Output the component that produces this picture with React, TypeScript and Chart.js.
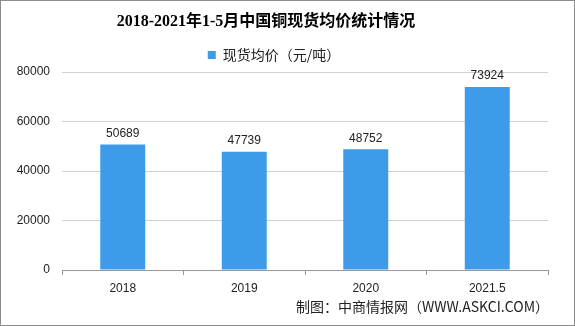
import React, { useEffect, useRef } from "react";
import { Chart, registerables } from "chart.js";

Chart.register(...registerables);

const categories = ["2018", "2019", "2020", "2021.5"];
const prices = [50689, 47739, 48752, 73924];
const yTicks = [0, 20000, 40000, 60000, 80000];
const seriesName = "现货均价（元/吨）";
const titleText = "2018-2021年1-5月中国铜现货均价统计情况";
const footerText = "制图：中商情报网（WWW.ASKCI.COM）";

const BAR_COLOR = "#3d9be9";

export default function App() {
  const ref = useRef<HTMLCanvasElement | null>(null);
  useEffect(() => {
    document.body.style.margin = "0";
    const canvas = ref.current!;
    const deco = {
      id: "deco",
      beforeDraw(chart: any) {
        const ctx = chart.ctx;
        ctx.save();
        ctx.fillStyle = "#ffffff";
        ctx.fillRect(0, 0, chart.width, chart.height);
        ctx.restore();
      },
      afterDraw(chart: any) {
        const ctx = chart.ctx;
        ctx.save();
        ctx.strokeStyle = "#8c8c8c";
        ctx.lineWidth = 1;
        ctx.strokeRect(0.5, 0.5, chart.width - 1, chart.height - 1);
        ctx.fillStyle = "#000";
        ctx.font = 'bold 16px "Liberation Serif", "Noto Sans CJK SC"';
        ctx.textAlign = "center";
        ctx.textBaseline = "middle";
        ctx.fillText(titleText, 266, 22);
        ctx.font = '14px "Noto Sans CJK SC", "Liberation Sans"';
        ctx.textAlign = "right";
        ctx.fillStyle = "#222";
        ctx.fillText(footerText, 549, 307);
        // data labels
        const meta = chart.getDatasetMeta(0);
        ctx.font = '12px "Liberation Sans", "Noto Sans CJK SC"';
        ctx.textAlign = "center";
        ctx.textBaseline = "bottom";
        ctx.fillStyle = "#222";
        meta.data.forEach((el: any, i: number) => {
          ctx.fillText(String(prices[i]), el.x, el.y - 5);
        });
        ctx.restore();
      },
    };
    const chart = new Chart(canvas, {
      type: "bar",
      data: {
        labels: categories,
        datasets: [
          {
            label: seriesName,
            data: prices,
            backgroundColor: BAR_COLOR,
            barPercentage: 0.37,
            categoryPercentage: 1,
          },
        ],
      },
      options: {
        responsive: false,
        animation: false,
        layout: { padding: { top: 43, right: 27, bottom: 24, left: 0 } },
        plugins: {
          title: { display: false },
          tooltip: { enabled: false },
          legend: {
            display: true,
            position: "top",
            labels: {
              boxWidth: 8,
              boxHeight: 8,
              color: "#222",
              padding: 5,
              font: { size: 14, family: '"Noto Sans CJK SC", "Liberation Sans"' },
            },
          },
        },
        scales: {
          x: {
            offset: true,
            afterFit: (s: any) => {
              s.height = 32;
            },
            grid: {
              offset: true,
              drawOnChartArea: false,
              drawTicks: true,
              tickLength: 5,
              color: "#999",
            },
            border: { color: "#999" },
            ticks: {
              color: "#222",
              padding: 6,
              font: { size: 12, family: '"Liberation Sans"' },
            },
          },
          y: {
            min: 0,
            max: 80000,
            afterFit: (s: any) => {
              s.width = 62;
            },
            afterBuildTicks: (s: any) => {
              s.ticks = yTicks.map((v) => ({ value: v }));
            },
            ticks: {
              color: "#222",
              padding: 12,
              callback: (v: any) => String(v),
              font: { size: 12, family: '"Liberation Sans"' },
            },
            grid: { color: "#d0d0d0", drawTicks: false },
            border: { display: false },
          },
        },
      },
      plugins: [deco],
    });
    return () => chart.destroy();
  }, []);
  return <canvas ref={ref} width={575} height={326} style={{ display: "block" }} />;
}
